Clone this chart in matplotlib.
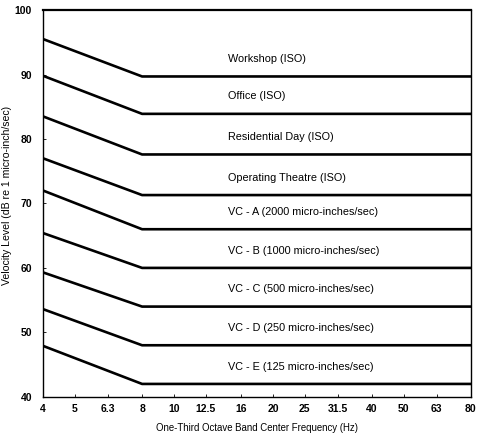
import numpy as np
import matplotlib
matplotlib.use("Agg")
import matplotlib.pyplot as plt
from matplotlib.ticker import FixedLocator, NullLocator

# one-third octave band centres shown on the axis
freq_ticks = [4, 5, 6.3, 8, 10, 12.5, 16, 20, 25, 31.5, 40, 50, 63, 80]
freq_labels = ['4', '5', '6.3', '8', '10', '12.5', '16', '20', '25', '31.5', '40', '50', '63', '80']

# criterion curves: level at 4 Hz, then flat from 8 Hz to 80 Hz
curve_names = ['Workshop (ISO)', 'Office (ISO)', 'Residential Day (ISO)',
               'Operating Theatre (ISO)',
               'VC - A (2000 micro-inches/sec)', 'VC - B (1000 micro-inches/sec)',
               'VC - C (500 micro-inches/sec)', 'VC - D (250 micro-inches/sec)',
               'VC - E (125 micro-inches/sec)']
level_at_4hz = [95.5, 89.8, 83.5, 77.0, 72.0, 65.4, 59.3, 53.6, 47.9]
level_flat = [89.7, 83.9, 77.6, 71.3, 66.0, 60.0, 54.0, 48.0, 42.0]
curve_freqs = [4, 8, 80]

plt.rcParams['font.family'] = ['Liberation Sans', 'DejaVu Sans']

fig = plt.figure(figsize=(4.79, 4.38), dpi=100)
ax = fig.add_axes([0.090, 0.094, 0.893, 0.883])

for name, lo, flat in zip(curve_names, level_at_4hz, level_flat):
    ax.plot(curve_freqs, [lo, flat, flat], color='black', lw=1.9,
            solid_joinstyle='round')
    ax.text(14.6, flat + 2.7, name, fontsize=7.8, va='center', ha='left')

ax.set_xscale('log')
ax.set_xlim(4, 80)
ax.set_ylim(40, 100)
ax.xaxis.set_major_locator(FixedLocator(freq_ticks))
ax.xaxis.set_minor_locator(NullLocator())
ax.set_xticklabels(freq_labels)
ax.set_yticks(np.arange(40, 101, 10))
ax.tick_params(direction='in', length=2, width=0.6, labelsize=7.5)
ax.tick_params(axis='y', pad=8)
ax.tick_params(axis='x', pad=5)
for lab in ax.get_xticklabels() + ax.get_yticklabels():
    lab.set_fontweight('bold')

for s in ax.spines.values():
    s.set_linewidth(1.0)
ax.spines['top'].set_linewidth(1.6)

ax.set_xlabel('One-Third Octave Band Center Frequency (Hz)', fontsize=6.9, labelpad=7)
ax.set_ylabel('Velocity Level (dB re 1 micro-inch/sec)', fontsize=7.6)
ax.yaxis.set_label_coords(-0.072, 0.52)

fig.savefig('out.png', dpi=100)
